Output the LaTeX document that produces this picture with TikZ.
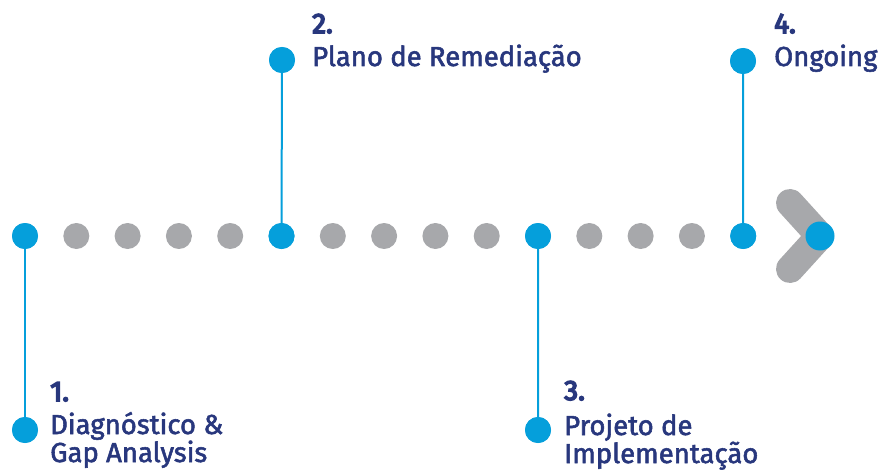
\documentclass[tikz,border=0pt]{standalone}
\usepackage{fontspec}
\setmainfont{Fira Sans}
\newfontfamily\ttlfont{Fira Sans}[FakeBold=2]
\newfontfamily\numfont{Fira Sans}[FakeBold=5.5]
\definecolor{dotblue}{RGB}{5,159,219}
\definecolor{dotgray}{RGB}{167,168,171}
\definecolor{navy}{RGB}{40,55,125}
\begin{document}
\begin{tikzpicture}[x=1pt,y=-1pt,
  bdot/.style={circle,fill=dotblue,inner sep=0pt,minimum size=26pt},
  gdot/.style={circle,fill=dotgray,inner sep=0pt,minimum size=26pt},
  stem/.style={draw=dotblue,line width=2pt},
  numtxt/.style={anchor=base west,inner sep=0pt,text=navy,font=\numfont\fontsize{28}{28}\selectfont},
  ttltxt/.style={anchor=base west,inner sep=0pt,text=navy,font=\ttlfont\fontsize{27.5}{28}\selectfont}]
\useasboundingbox (0,0) rectangle (891,476);
% chevron
\coordinate (ca) at (790,203);
\coordinate (cb) at (820,236);
\coordinate (cc) at (790,269);
\draw[dotgray,line width=28pt,line cap=round,line join=round] (ca) -- (cb) -- (cc);
\node[bdot,minimum size=29pt] (tip) at (cb) {};
% end dots
\node[bdot] (e1) at (25,430) {};
\node[bdot] (e2) at (282,60) {};
\node[bdot] (e3) at (538,430) {};
\node[bdot] (e4) at (743,61) {};
% row of dots
\foreach \i in {0,...,14} {
  \pgfmathsetmacro{\xx}{25+51.3*\i}
  \ifnum\i=0 \node[bdot] (d\i) at (\xx,236) {};
  \else\ifnum\i=5 \node[bdot] (d\i) at (\xx,236) {};
  \else\ifnum\i=10 \node[bdot] (d\i) at (\xx,236) {};
  \else\ifnum\i=14 \node[bdot] (d\i) at (\xx,236) {};
  \else \node[gdot] (d\i) at (\xx,236) {};
  \fi\fi\fi\fi
}
\draw[stem] (d0.center) -- (e1.center);
\draw[stem] (d5.center) -- (e2.center);
\draw[stem] (d10.center) -- (e3.center);
\draw[stem] (d14.center) -- (e4.center);
\node[bdot] (f0) at (d0) {};
\node[bdot] (f5) at (d5) {};
\node[bdot] (f10) at (d10) {};
\node[bdot] (f14) at (d14) {};
\node[bdot] (g1) at (e1) {};
\node[bdot] (g2) at (e2) {};
\node[bdot] (g3) at (e3) {};
\node[bdot] (g4) at (e4) {};
% texts
\node[numtxt] (n1) at (50,401) {1.};
\node[ttltxt] (t1a) at (50,434) {Diagnóstico \&};
\node[ttltxt] (t1b) at (50,462) {Gap Analysis};
\node[numtxt] (n2) at (312,33) {2.};
\node[ttltxt] (t2a) at (312,66) {Plano de Remediação};
\node[numtxt] (n3) at (564,400) {3.};
\node[ttltxt] (t3a) at (564,435) {Projeto de};
\node[ttltxt] (t3b) at (564,463) {Implementação};
\node[numtxt] (n4) at (774,33) {4.};
\node[ttltxt] (t4a) at (774,66) {Ongoing};
\end{tikzpicture}
\end{document}
